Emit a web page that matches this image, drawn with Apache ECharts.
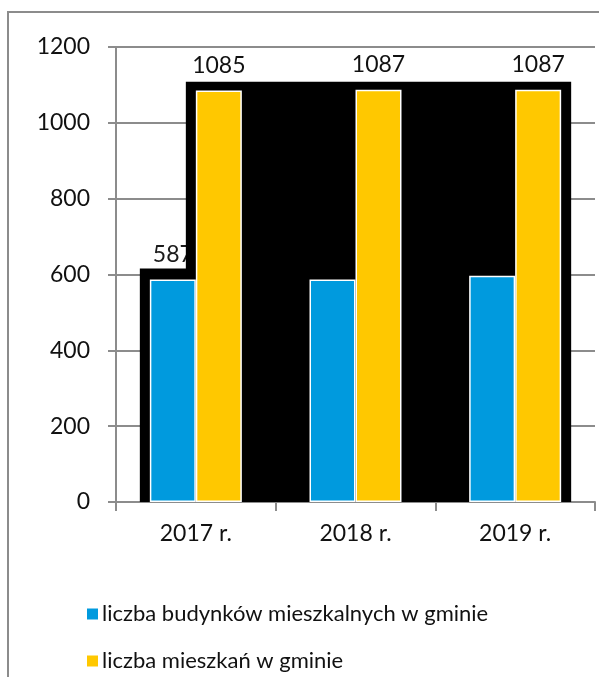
<!DOCTYPE html>
<html>
<head>
    <meta charset="utf-8">
    <script src="https://cdn.jsdelivr.net/npm/echarts@6/dist/echarts.min.js"></script>
</head>
<body style="margin:0;background-color:#fff">
    <div id="main" style="width:599px;height:677px;"></div>
    <script type="text/javascript">
        var years = ['2017 r.', '2018 r.', '2019 r.'];
        var buildings = [587, 587, 597];
        var flats = [1085, 1087, 1087];
        var yTicks = [0, 200, 400, 600, 800, 1000, 1200];

        var FONT = 'Lato';
        var BAR_W = 46;

        var myChart = echarts.init(document.getElementById('main'));

        // black stepped block behind the bars (covers the blue labels)
        function renderBlock(params, api) {
            var c0 = api.coord([0, 0]);
            var c2 = api.coord([years.length - 1, 0]);
            var base = c0[1];
            var left = c0[0] - BAR_W - 10;
            var right = c2[0] + BAR_W + 10;
            var step = c0[0] - 10;
            var lowTop = api.coord([0, buildings[0]])[1] - 11;
            var highTop = api.coord([0, Math.max.apply(null, flats)])[1] - 8;
            var children = [];
            for (var i = 0; i < buildings.length; i++) {
                var p = api.coord([i, buildings[i]]);
                children.push({
                    type: 'text', z2: 0,
                    style: {
                        x: p[0] - BAR_W / 2, y: p[1] - 13,
                        text: String(buildings[i]),
                        fill: '#1a1a1a', font: '23px ' + FONT,
                        align: 'center', verticalAlign: 'bottom'
                    }
                });
            }
            children.push({
                type: 'polygon', z2: 1,
                shape: {points: [[left, base], [left, lowTop], [step, lowTop], [step, highTop], [right, highTop], [right, base]]},
                style: {fill: '#000'}
            });
            return {type: 'group', children: children};
        }

        option = {
            animation: false,
            textStyle: {fontFamily: FONT},
            graphic: [{
                type: 'rect', silent: true,
                shape: {x: 8, y: 12, width: 800, height: 800},
                style: {fill: 'none', stroke: '#8c8c8c', lineWidth: 2}
            }],
            grid: {left: 116, right: 4, top: 47, bottom: 175},
            legend: {
                orient: 'vertical', left: 80, top: 598,
                icon: 'rect', itemWidth: 13, itemHeight: 13, itemGap: 25,
                data: ['liczba budynków mieszkalnych w gminie', 'liczba mieszkań w gminie'],
                textStyle: {fontSize: 22, color: '#111', fontFamily: FONT, padding: [0, 0, 0, -2]}
            },
            xAxis: {
                type: 'category', data: years,
                axisLine: {lineStyle: {color: '#8c8c8c', width: 2}},
                axisTick: {show: true, length: 9, lineStyle: {color: '#8c8c8c', width: 2}},
                axisLabel: {color: '#111', fontSize: 23, margin: 20}
            },
            yAxis: {
                type: 'value', min: yTicks[0], max: yTicks[yTicks.length - 1], interval: 200,
                axisLine: {show: true, lineStyle: {color: '#8c8c8c', width: 2}},
                axisTick: {show: true, length: 8, lineStyle: {color: '#8c8c8c', width: 2}},
                splitLine: {lineStyle: {color: '#8c8c8c', width: 2}},
                axisLabel: {color: '#111', fontSize: 23, margin: 26, formatter: function (v) { return String(v); }}
            },
            series: [
                {
                    type: 'custom', z: 1, silent: true,
                    renderItem: renderBlock,
                    data: [[0, 0]],
                    encode: {x: 0, y: 1}
                },
                {
                    name: 'liczba budynków mieszkalnych w gminie',
                    type: 'bar', z: 2, data: buildings,
                    barWidth: BAR_W, barGap: '0%',
                    itemStyle: {color: '#009ADE', borderColor: '#fff', borderWidth: 1.5}
                },
                {
                    name: 'liczba mieszkań w gminie',
                    type: 'bar', z: 2, data: flats,
                    barWidth: BAR_W, barGap: '0%',
                    itemStyle: {color: '#FFC800', borderColor: '#fff', borderWidth: 1.5},
                    label: {show: true, position: 'top', distance: 14, color: '#111', fontSize: 23, fontFamily: FONT}
                }
            ]
        };
        myChart.setOption(option);
    </script>
</body>
</html>
